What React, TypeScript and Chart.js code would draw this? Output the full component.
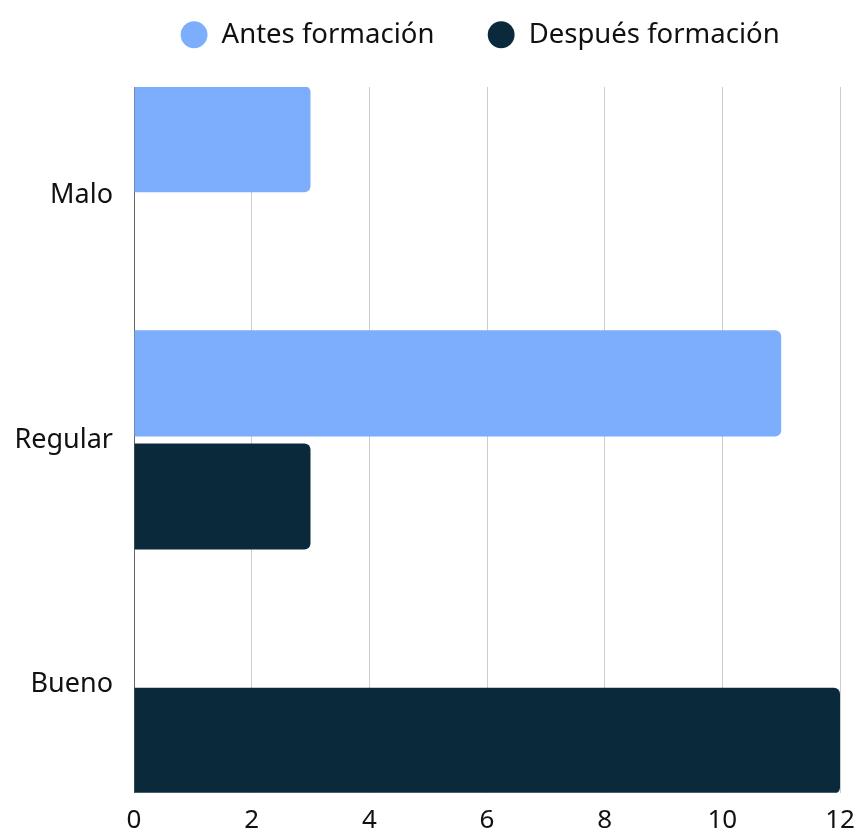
import React, { useEffect, useRef } from "react";
import { Chart, registerables } from "chart.js";

Chart.register(...registerables);

const CATEGORIES = ["Malo", "Regular", "Bueno"];
const ANTES = [3, 11, 0];
const DESPUES = [0, 3, 12];
const SERIES_NAMES = ["Antes formación", "Después formación"];
const X_MIN = 0;
const X_MAX = 12;
const X_STEP = 2;

const COLOR_ANTES = "#7DADFD";
const COLOR_DESPUES = "#0A2A3B";

export default function App() {
  const ref = useRef<HTMLCanvasElement | null>(null);

  useEffect(() => {
    document.body.style.margin = "0";
    const canvas = ref.current;
    if (!canvas) return;

    const legendTweak = {
      id: "legendTweak",
      afterInit(chart: any) {
        const legend = chart.legend;
        if (!legend) return;
        const origFit = legend.fit;
        legend.fit = function () {
          const mw = this.maxWidth;
          this.maxWidth = mw + 200;
          origFit.call(this);
          this.maxWidth = mw;
          this.width = mw;
          this.height = 87;
        };
        const origDraw = legend.draw;
        legend.draw = function () {
          const t = this.top;
          const b = this.bottom;
          const l = this.left;
          this.top = t - 32;
          this.bottom = b - 32;
          this.left = l - 14;
          origDraw.call(this);
          this.top = t;
          this.bottom = b;
          this.left = l;
        };
      },
    };

    const chart = new Chart(canvas, {
      type: "bar",
      data: {
        datasets: [
          {
            label: SERIES_NAMES[0],
            data: ANTES.map((v, i) => ({ x: v, y: i })),
            backgroundColor: COLOR_ANTES,
            borderRadius: 6,
            borderSkipped: "start",
          },
          {
            label: SERIES_NAMES[1],
            data: DESPUES.map((v, i) => ({ x: v, y: i })),
            backgroundColor: COLOR_DESPUES,
            borderRadius: 6,
            borderSkipped: "start",
          },
        ],
      },
      options: {
        indexAxis: "y",
        animation: false,
        responsive: true,
        maintainAspectRatio: false,
        categoryPercentage: 0.926,
        barPercentage: 0.938,
        font: { family: "'Noto Sans', sans-serif" },
        layout: { padding: { top: 0, right: 19, left: 0, bottom: 0 } },
        plugins: {
          tooltip: { enabled: false },
          legend: {
            display: true,
            position: "top",
            fullSize: false,
            align: "center",
            labels: {
              usePointStyle: true,
              pointStyle: "circle",
              boxWidth: 32,
              boxHeight: 19,
              padding: 53,
              color: "#111",
              font: { family: "'Noto Sans', sans-serif", size: 27.5 },
            },
          },
        },
        scales: {
          x: {
            type: "linear",
            position: "bottom",
            min: X_MIN,
            max: X_MAX,
            ticks: {
              stepSize: X_STEP,
              color: "#111",
              padding: 12,
              font: { family: "'Noto Sans', sans-serif", size: 26 },
            },
            grid: { color: "#cccccc", drawTicks: false, lineWidth: 1 },
            border: { display: false },
            afterFit: (scale: any) => {
              scale.height = 37;
              scale.paddingRight = 0;
              scale.paddingLeft = 0;
            },
          },
          y: {
            type: "linear",
            position: "left",
            reverse: true,
            offset: false,
            min: -0.445,
            max: 2.445,
            grid: { display: false, drawTicks: false, offset: false },
            border: { display: true, color: "#666666", width: 1 },
            afterBuildTicks: (scale: any) => {
              scale.ticks = CATEGORIES.map((_, i) => ({ value: i }));
            },
            ticks: {
              color: "#111",
              padding: 21,
              font: { family: "'Noto Sans', sans-serif", size: 27 },
              callback: (value: any) => CATEGORIES[Number(value)] ?? "",
            },
            afterFit: (scale: any) => {
              scale.width = 134;
            },
          },
        },
      } as any,
      plugins: [legendTweak],
    });

    return () => {
      chart.destroy();
    };
  }, []);

  return (
    <div style={{ position: "absolute", left: 0, top: 0, width: 859, height: 830 }}>
      <canvas ref={ref} />
    </div>
  );
}
